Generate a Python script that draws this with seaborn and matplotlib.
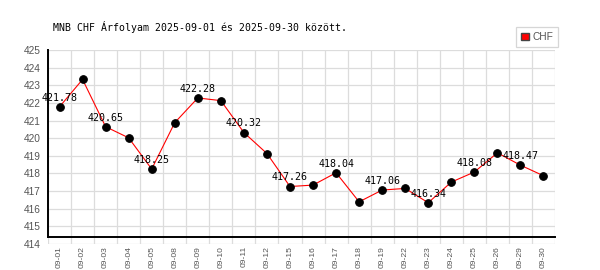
import matplotlib
matplotlib.use("Agg")
import matplotlib.pyplot as plt
from matplotlib.patches import Patch
from matplotlib.ticker import MultipleLocator, FixedLocator
import seaborn as sns
import pandas as pd

dates = ["09-01", "09-02", "09-03", "09-04", "09-05", "09-08", "09-09", "09-10",
         "09-11", "09-12", "09-15", "09-16", "09-17", "09-18", "09-19", "09-22",
         "09-23", "09-24", "09-25", "09-26", "09-29", "09-30"]
chf = [421.78, 423.33, 420.65, 420.02, 418.25, 420.88, 422.28, 422.13,
       420.32, 419.13, 417.26, 417.34, 418.04, 416.39, 417.06, 417.15,
       416.34, 417.51, 418.08, 419.17, 418.47, 417.87]
labeled = [0, 2, 4, 6, 8, 10, 12, 14, 16, 18, 20]
title = "MNB CHF Árfolyam 2025-09-01 és 2025-09-30 között."
y_ticks = list(range(414, 426))

df = pd.DataFrame({"idx": range(len(dates)), "date": dates, "CHF": chf})

sns.set_style("white")
fig = plt.figure(figsize=(6, 2.7), dpi=100)
ax = fig.add_axes([48 / 600, 1 - 244 / 270, (555 - 48) / 600, (244 - 50) / 270])

sns.lineplot(data=df, x="idx", y="CHF", ax=ax, color="red", lw=0.8,
             marker="o", markersize=5.5, markerfacecolor="black",
             markeredgecolor="black", zorder=3)

for i in labeled:
    ax.annotate(f"{chf[i]:.2f}", (df["idx"][i], chf[i]), xytext=(0, 3),
                textcoords="offset points", ha="center", va="bottom",
                fontsize=7.2, family="DejaVu Sans Mono", color="black", zorder=4)

n = len(dates)
ax.set_xlim(-0.5, n - 0.5)
ax.set_ylim(414, 425)
ax.yaxis.set_major_locator(FixedLocator(y_ticks))
ax.set_xticks(list(df["idx"]))
ax.set_xticklabels(dates)
ax.xaxis.set_minor_locator(MultipleLocator(1, offset=0.5))
ax.grid(False)
ax.grid(axis="y", which="major", color="#dcdcdc", lw=0.9)
ax.grid(axis="x", which="minor", color="#dcdcdc", lw=0.9)
ax.set_axisbelow(True)
ax.set_xlabel("")
ax.set_ylabel("")

for s in ["top", "right"]:
    ax.spines[s].set_visible(False)
ax.spines["bottom"].set_position(("data", 414.37))
ax.spines["left"].set_bounds(414.37, 425)
for s in ["bottom", "left"]:
    ax.spines[s].set_color("black")
    ax.spines[s].set_linewidth(1.4)

ax.tick_params(axis="y", length=0, pad=5, labelsize=7.3, labelcolor="#555555")
ax.tick_params(axis="x", which="major", length=0, pad=6.3, labelsize=6.1,
               labelcolor="#555555", labelrotation=90)
ax.tick_params(axis="x", which="minor", length=0)
for lab in ax.get_xticklabels() + ax.get_yticklabels():
    lab.set_family(["Liberation Sans", "DejaVu Sans"])

fig.text(53 / 600, 1 - 27 / 270, title, ha="left", va="center",
         fontsize=7.1, family="DejaVu Sans Mono", color="black")

leg = fig.legend(handles=[Patch(facecolor="red", edgecolor="#444444", label="CHF")],
                 loc="upper left", bbox_to_anchor=(511 / 600, 1 - 22 / 270),
                 frameon=True, fancybox=False, edgecolor="#cccccc",
                 handlelength=0.8, handleheight=0.8, handletextpad=0.3,
                 borderpad=0.5, fontsize=7.3)
for t in leg.get_texts():
    t.set_color("#555555")
    t.set_family(["Liberation Sans", "DejaVu Sans"])
leg.get_frame().set_linewidth(0.9)

fig.savefig("out.png", dpi=100)
